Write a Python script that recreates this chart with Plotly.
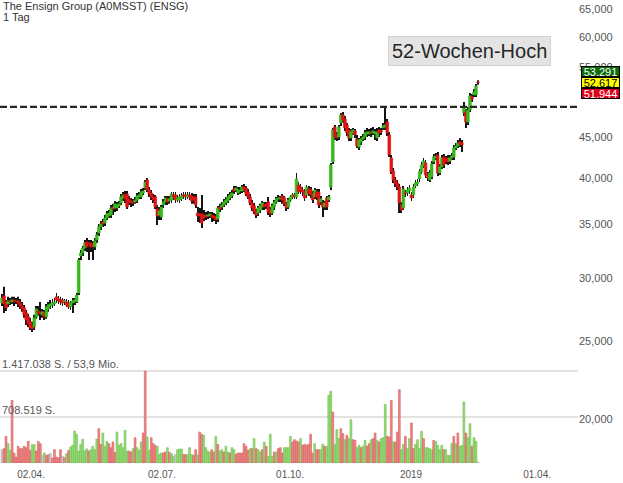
import math
import plotly.graph_objects as go

# ---------------- data ----------------
title_line = "The Ensign Group (A0MSST) (ENSG)"
interval_line = "1 Tag"
x_tick_labels = ["02.04.", "02.07.", "01.10.", "2019", "01.04."]
price_ticks = [20, 25, 30, 35, 40, 45, 55, 60, 65]
price_tick_labels = ["20,000", "25,000", "30,000", "35,000", "40,000", "45,000", "55,000", "60,000", "65,000"]
high_52w = 49.06
high_52w_label = "52-Wochen-Hoch"
quote_labels = ["53,291", "52,617", "51,944"]
vol_levels = [1417038, 708519]
vol_level_labels = ["1.417.038 S. / 53,9 Mio.", "708.519 S."]

open_ = [
    27.92, 28.49, 27.92, 27.84, 28.08, 28.00, 28.16, 28.08, 28.08, 27.92,
    27.68, 27.52, 27.13, 26.82, 26.44, 26.13, 26.06, 26.82, 27.28, 27.21,
    26.98, 27.13, 26.82, 27.44, 27.68, 27.76, 27.84, 28.41, 28.24, 28.16,
    28.16, 28.00, 28.00, 27.92, 27.60, 27.92, 28.00, 28.00, 28.73, 31.96,
    32.23, 32.70, 33.27, 33.18, 33.18, 33.08, 32.80, 33.46, 34.14, 34.74,
    35.24, 35.14, 35.64, 35.85, 35.95, 36.79, 36.68, 36.68, 36.90, 37.22,
    37.76, 38.09, 38.20, 37.65, 37.44, 37.33, 37.33, 37.54, 37.87, 37.87,
    38.30, 38.85, 39.76, 38.63, 38.30, 37.87, 37.87, 36.58, 35.95, 35.75,
    37.01, 37.33, 37.65, 37.44, 37.54, 38.09, 38.09, 37.54, 37.54, 37.65,
    38.09, 38.09, 37.87, 38.09, 37.98, 37.87, 37.87, 36.16, 36.06, 36.06,
    35.95, 35.95, 35.85, 35.85, 35.95, 35.85, 35.75, 35.54, 36.79, 36.79,
    37.01, 37.22, 37.44, 37.76, 37.98, 38.74, 38.63, 38.30, 38.52, 38.52,
    38.97, 38.85, 38.41, 37.87, 37.22, 36.90, 36.27, 36.16, 36.47, 36.79,
    37.01, 37.12, 37.33, 36.47, 36.16, 36.79, 37.33, 37.65, 37.65, 37.98,
    37.76, 37.12, 36.79, 37.54, 37.87, 38.09, 37.87, 39.19, 38.97, 38.63,
    38.41, 38.09, 38.74, 38.74, 38.20, 37.87, 38.41, 38.41, 37.33, 37.22,
    36.79, 37.76, 37.54, 38.97, 41.88, 46.31, 45.26, 45.00, 46.85, 47.94,
    47.39, 46.58, 45.91, 44.87, 45.52, 45.78, 44.74, 43.72, 44.36, 44.74,
    45.00, 45.39, 45.39, 45.65, 45.52, 45.39, 44.87, 45.91, 45.78, 46.18,
    46.31, 46.98, 45.26, 42.36, 40.80, 39.76, 39.42, 38.97, 37.01, 36.68,
    38.30, 38.30, 38.52, 38.09, 38.09, 39.08, 39.31, 39.88, 40.69, 41.40,
    41.76, 40.34, 39.76, 40.11, 41.87, 42.36, 42.73, 40.57, 41.28, 42.48,
    42.23, 42.36, 41.99, 42.36, 42.48, 43.59, 43.85, 44.36, 44.23, 48.22,
    48.35, 46.98, 48.63, 50.49, 50.78, 50.78, 52.70,
]
close = [
    28.32, 27.84, 27.52, 28.08, 28.00, 28.16, 28.08, 28.04, 27.92, 27.68,
    27.44, 26.98, 26.59, 26.29, 25.98, 25.91, 26.75, 27.44, 27.13, 27.05,
    27.21, 26.82, 27.60, 27.76, 27.84, 27.92, 28.00, 28.16, 28.08, 28.00,
    27.92, 28.08, 27.76, 27.60, 27.92, 28.08, 28.16, 28.57, 31.59, 32.23,
    32.70, 33.18, 32.80, 33.08, 32.80, 32.80, 33.37, 33.95, 34.74, 35.04,
    35.04, 35.64, 36.06, 36.16, 36.68, 36.58, 37.12, 37.01, 37.12, 37.87,
    38.09, 37.65, 36.79, 37.33, 37.22, 37.22, 37.54, 37.98, 38.09, 38.41,
    38.52, 39.53, 38.63, 38.20, 37.87, 37.54, 36.79, 35.85, 36.37, 36.79,
    37.33, 37.76, 37.33, 37.65, 38.20, 37.87, 37.54, 37.76, 37.87, 37.98,
    37.98, 37.87, 38.09, 37.87, 37.44, 37.54, 37.01, 35.85, 35.85, 35.14,
    35.64, 35.75, 35.95, 36.06, 35.75, 35.64, 35.44, 36.68, 36.58, 37.01,
    37.33, 37.54, 37.87, 38.09, 38.30, 38.52, 38.85, 38.63, 38.63, 38.97,
    38.74, 38.20, 37.87, 37.22, 36.68, 36.27, 35.95, 36.68, 36.90, 37.22,
    36.79, 36.90, 36.27, 36.06, 36.90, 37.33, 37.65, 37.76, 37.76, 37.54,
    37.12, 36.68, 37.54, 37.87, 38.09, 37.87, 39.88, 38.41, 38.52, 38.41,
    37.76, 38.97, 38.30, 38.09, 37.54, 38.63, 37.87, 37.01, 37.65, 36.79,
    37.22, 36.79, 37.87, 41.52, 45.91, 45.00, 44.87, 46.31, 47.94, 47.25,
    46.18, 45.52, 44.87, 45.65, 45.91, 45.26, 43.85, 44.61, 44.74, 45.00,
    45.52, 45.65, 45.65, 45.52, 45.78, 45.65, 45.65, 45.52, 45.65, 46.44,
    46.58, 45.52, 42.73, 40.69, 39.76, 39.31, 38.97, 37.22, 36.47, 38.74,
    38.20, 38.63, 38.85, 37.76, 38.97, 39.42, 39.53, 40.69, 41.52, 41.99,
    40.34, 39.99, 40.57, 41.64, 42.48, 42.60, 40.57, 41.28, 42.36, 41.52,
    41.99, 41.87, 42.36, 42.60, 43.59, 43.85, 44.23, 44.10, 43.98, 48.91,
    46.98, 48.63, 50.63, 50.19, 51.21, 52.10, 52.62,
]
high = [
    28.65, 29.24, 28.16, 28.41, 28.32, 28.41, 28.41, 28.32, 28.41, 28.24,
    28.00, 27.76, 27.36, 27.05, 26.75, 26.44, 26.98, 27.68, 27.68, 28.00,
    27.44, 27.36, 27.84, 28.00, 28.16, 28.24, 28.32, 28.73, 28.49, 28.41,
    28.32, 28.24, 28.24, 28.16, 28.08, 28.32, 28.32, 28.73, 31.77, 32.51,
    32.89, 33.46, 33.66, 33.46, 33.46, 33.37, 33.66, 34.24, 35.04, 35.34,
    35.54, 35.95, 36.37, 36.47, 37.01, 37.12, 37.44, 37.33, 37.44, 38.20,
    38.41, 38.52, 38.52, 37.98, 37.76, 37.65, 37.87, 38.30, 38.41, 38.74,
    38.85, 39.76, 39.99, 38.97, 38.63, 38.20, 38.09, 37.01, 36.79, 37.01,
    37.65, 37.98, 37.98, 37.98, 38.41, 38.41, 38.41, 38.09, 38.20, 38.30,
    38.41, 38.41, 38.41, 38.41, 38.30, 38.20, 38.20, 36.79, 36.68, 38.09,
    36.47, 36.27, 36.37, 36.27, 36.27, 36.16, 36.06, 36.90, 37.12, 37.33,
    37.65, 37.87, 38.20, 38.41, 38.63, 39.08, 39.08, 38.97, 38.97, 39.19,
    39.31, 39.08, 38.74, 38.20, 37.54, 37.22, 36.58, 36.90, 37.12, 37.44,
    37.33, 37.33, 37.87, 36.79, 37.12, 37.54, 37.87, 38.09, 37.98, 38.20,
    37.98, 37.33, 37.76, 38.09, 38.30, 38.30, 40.57, 39.53, 39.31, 38.97,
    38.74, 39.19, 39.08, 38.97, 38.52, 38.85, 38.74, 38.74, 37.98, 37.54,
    37.44, 37.98, 38.09, 41.76, 46.18, 46.58, 45.65, 46.58, 48.22, 48.35,
    47.80, 46.85, 46.18, 46.04, 46.18, 46.04, 45.26, 44.87, 45.13, 45.39,
    45.91, 46.18, 46.04, 46.18, 46.31, 46.04, 46.18, 46.31, 46.18, 46.85,
    49.06, 47.39, 45.65, 42.73, 41.16, 40.11, 39.76, 39.31, 37.33, 39.08,
    38.63, 38.97, 39.19, 38.41, 39.31, 39.76, 39.88, 41.04, 41.87, 42.36,
    42.11, 40.69, 40.92, 41.99, 42.85, 42.97, 43.09, 41.64, 42.73, 42.85,
    42.60, 42.73, 42.73, 42.97, 43.98, 44.23, 44.61, 44.87, 44.61, 49.77,
    48.77, 49.06, 51.07, 50.92, 51.65, 52.41, 52.95,
]
low = [
    27.68, 27.13, 27.28, 27.60, 27.76, 27.84, 27.68, 27.84, 27.60, 27.44,
    27.21, 26.75, 26.21, 26.06, 25.83, 25.68, 25.83, 26.67, 26.90, 26.59,
    26.75, 26.59, 26.67, 27.21, 27.44, 27.52, 27.68, 27.92, 27.84, 27.76,
    27.68, 27.76, 27.60, 27.44, 27.36, 27.13, 27.76, 27.92, 28.57, 31.59,
    31.96, 32.42, 32.33, 31.59, 32.33, 31.59, 32.51, 33.18, 33.85, 34.44,
    34.74, 34.84, 35.44, 35.64, 35.64, 35.95, 36.27, 36.37, 36.68, 37.01,
    37.44, 37.22, 36.58, 37.01, 36.79, 36.90, 37.12, 37.22, 37.65, 37.65,
    38.09, 38.63, 38.41, 37.87, 37.54, 37.22, 36.58, 34.94, 35.44, 35.44,
    36.68, 37.01, 37.01, 37.12, 37.22, 37.54, 37.22, 37.33, 37.22, 37.44,
    37.65, 37.54, 37.65, 37.54, 37.12, 37.12, 36.68, 35.24, 35.14, 34.64,
    35.34, 35.44, 35.54, 35.64, 35.24, 35.34, 35.04, 35.24, 36.27, 36.47,
    36.79, 37.01, 37.22, 37.54, 37.76, 38.20, 38.41, 38.09, 38.20, 38.30,
    38.41, 37.98, 37.65, 37.01, 36.37, 36.06, 35.64, 35.85, 36.16, 36.47,
    36.47, 36.58, 35.95, 35.75, 35.95, 36.47, 37.12, 37.33, 37.33, 37.12,
    36.90, 36.37, 36.58, 37.33, 37.65, 37.65, 37.65, 38.20, 38.20, 37.98,
    37.44, 37.76, 37.98, 37.76, 37.22, 37.65, 37.54, 36.68, 37.01, 35.75,
    36.47, 36.47, 37.33, 38.63, 41.64, 44.61, 44.48, 44.61, 46.44, 46.85,
    45.78, 45.13, 44.48, 44.48, 45.26, 44.87, 43.59, 43.34, 43.98, 44.48,
    44.61, 45.00, 45.13, 45.00, 45.26, 44.61, 44.48, 45.00, 45.26, 45.91,
    45.91, 45.13, 42.48, 40.46, 39.42, 38.97, 38.63, 36.16, 36.16, 36.47,
    37.87, 37.98, 38.20, 37.44, 37.76, 38.85, 39.08, 39.53, 40.46, 41.16,
    39.99, 39.65, 39.53, 39.88, 41.64, 42.11, 40.22, 40.34, 41.04, 41.16,
    41.64, 41.52, 41.64, 42.11, 42.11, 43.34, 43.59, 43.72, 43.09, 47.80,
    46.18, 46.58, 48.35, 49.77, 50.49, 50.49, 52.30,
]
# volume in thousands of shares
volume_k = [
    205, 221, 411, 298, 195, 965, 154, 92, 257, 221,
    221, 257, 236, 334, 195, 282, 282, 185, 334, 298,
    118, 154, 118, 128, 144, 77, 205, 92, 82, 205,
    103, 82, 144, 195, 246, 272, 493, 442, 185, 288,
    365, 185, 216, 185, 205, 257, 205, 370, 529, 288,
    462, 257, 334, 298, 236, 323, 164, 477, 272, 298,
    236, 503, 185, 185, 169, 221, 390, 236, 195, 323,
    462, 1417.038, 400, 195, 390, 298, 272, 257, 133, 154,
    154, 169, 236, 164, 144, 103, 128, 205, 216, 216,
    133, 128, 133, 236, 128, 118, 205, 123, 477, 442,
    426, 236, 185, 169, 205, 169, 411, 288, 185, 205,
    169, 257, 169, 154, 236, 205, 133, 154, 154, 154,
    298, 257, 195, 221, 221, 375, 221, 205, 169, 205,
    323, 257, 103, 442, 103, 169, 169, 221, 236, 154,
    236, 236, 236, 411, 323, 359, 339, 323, 375, 272,
    288, 272, 288, 442, 154, 298, 205, 205, 205, 288,
    257, 257, 1042, 1104, 785, 288, 513, 375, 529, 452,
    359, 426, 375, 667, 359, 349, 236, 272, 236, 257,
    349, 257, 298, 359, 375, 462, 349, 323, 375, 390,
    904, 411, 400, 965, 323, 323, 477, 1130, 205, 288,
    411, 221, 375, 616, 221, 288, 359, 221, 488, 375,
    236, 236, 221, 205, 349, 334, 272, 205, 272, 205,
    205, 118, 118, 298, 411, 298, 462, 257, 272, 940,
    462, 390, 606, 257, 390, 334, 15,
]
# volume bar direction: g = up, r = down, n = unchanged
volume_dir = (
    "nrrggrrrrr" "rrrrrggrrr" "ngrrnrrrrr" "nrgrgggggg" "gggrggggrr"
    "gggrrrrggg" "gggrrgrggg" "rrggrrrggg" "rrgrggnggg" "rrgggrrgrr"
    "ggggrrgrgg" "rggrggrrrr" "rrrgrgrggr" "grgggrgrrr" "ggggrrrrgr"
    "rrrrrgrrgg" "rgggrgggrr" "grggrrggrg" "grrgrrgrgg" "grrrgrrrgg"
    "rggrrggggr" "ggggrggggr" "ggggrgrggg" "rggrggn"
)

# ---------------- figure ----------------
FONT = "Liberation Sans, Arial, sans-serif"
GREEN = "#3ab81e"
RED = "#e01414"
idx = list(range(len(close)))
volume = [v * 1000 for v in volume_k]

vol_fill = {"g": "#98db78", "r": "#f08686", "n": "#cccccc"}
vol_edge = {"g": "#6cbf4c", "r": "#d55c5c", "n": "#aaaaaa"}

fig = go.Figure()

# volume bars
fig.add_trace(go.Bar(
    x=idx, y=volume, yaxis="y2", width=0.9,
    marker=dict(color=[vol_fill[d] for d in volume_dir],
                line=dict(color=[vol_edge[d] for d in volume_dir], width=0.6)),
    hoverinfo="skip",
))

# wicks (thin bars so that they sit behind the bodies)
fig.add_trace(go.Bar(
    x=idx, y=[h - l for h, l in zip(high, low)], base=low, width=0.42,
    marker=dict(color="#141414", line=dict(width=0)), hoverinfo="skip",
))

# bodies
base = [min(o, c) for o, c in zip(open_, close)]
size = [abs(c - o) for o, c in zip(open_, close)]
col = [GREEN if c >= o else RED for o, c in zip(open_, close)]
fig.add_trace(go.Bar(x=idx, y=size, base=base, width=1.3,
                     marker=dict(color=col, line=dict(color=col, width=0.7)),
                     hoverinfo="skip"))

# 52-week-high dashed line
x_lo, x_hi = -0.99, 285.57
fig.add_trace(go.Scatter(x=[x_lo, x_hi], y=[high_52w, high_52w], mode="lines",
                         line=dict(color="#262626", width=2.4, dash="7px,3px"),
                         hoverinfo="skip"))

# volume grid lines
shapes = []
for lv in vol_levels:
    shapes.append(dict(type="line", xref="paper", x0=0, x1=1, yref="y2", y0=lv, y1=lv,
                       line=dict(color="#e2e2e2", width=2), layer="below"))

annotations = [
    dict(text=title_line, xref="paper", yref="paper", x=0, y=1, xanchor="left", yanchor="top",
         xshift=1, yshift=2, showarrow=False, font=dict(family=FONT, size=11, color="#333333")),
    dict(text=interval_line, xref="paper", yref="paper", x=0, y=1, xanchor="left", yanchor="top",
         xshift=1, yshift=-9, showarrow=False, font=dict(family=FONT, size=11, color="#333333")),
    dict(text=high_52w_label, xref="paper", yref="paper", x=0.813, y=0.89,
         xanchor="center", yanchor="middle", showarrow=False,
         bgcolor="#e4e4e4", bordercolor="#d2d2d2", borderwidth=1, borderpad=3,
         font=dict(family=FONT, size=20, color="#262626")),
]
for lv, lab in zip(vol_levels, vol_level_labels):
    annotations.append(dict(text=lab, xref="paper", yref="y2", x=0, y=lv,
                            xanchor="left", yanchor="bottom", xshift=0, yshift=-1,
                            showarrow=False, font=dict(family=FONT, size=11, color="#555555")))

box_styles = [("#0b6b0b", "white"), ("#ffff00", "black"), ("#e0001b", "white")]
box_y = [0.846, 0.822, 0.798]
for lab, (bg, fg), yy in zip(quote_labels, box_styles, box_y):
    annotations.append(dict(text=lab, xref="paper", yref="paper", x=1, y=yy,
                            xanchor="left", yanchor="middle", xshift=3, showarrow=False,
                            bgcolor=bg, bordercolor="black", borderwidth=1, borderpad=0,
                            width=37, height=9,
                            font=dict(family=FONT, size=11, color=fg)))

y_lo = math.log10(17.62)
y_hi = math.log10(66.71)

fig.update_layout(
    width=623, height=483,
    margin=dict(l=0, r=45, t=0, b=20),
    paper_bgcolor="white", plot_bgcolor="white",
    showlegend=False, barmode="overlay", hovermode=False,
    font=dict(family=FONT),
    xaxis=dict(range=[x_lo, x_hi], tickmode="array",
               tickvals=[14.4, 79.3, 142.8, 202.8, 265.3], ticktext=x_tick_labels,
               showgrid=False, zeroline=False, showline=False, ticks="",
               tickfont=dict(family=FONT, size=10, color="#555555"),
               ticklabelstandoff=4, automargin=False),
    yaxis=dict(type="log", range=[y_lo, y_hi], side="right", tickmode="array",
               tickvals=price_ticks, ticktext=price_tick_labels,
               showgrid=False, zeroline=False, showline=False, ticks="",
               tickfont=dict(family=FONT, size=11, color="#555555"), automargin=False),
    yaxis2=dict(overlaying="y", range=[0, 7131589], visible=False, showgrid=False),
    shapes=shapes,
    annotations=annotations,
)

fig.write_html("out.html", config={"displayModeBar": False},
               post_script="document.body.style.margin='0px';document.body.style.overflow='hidden';")
